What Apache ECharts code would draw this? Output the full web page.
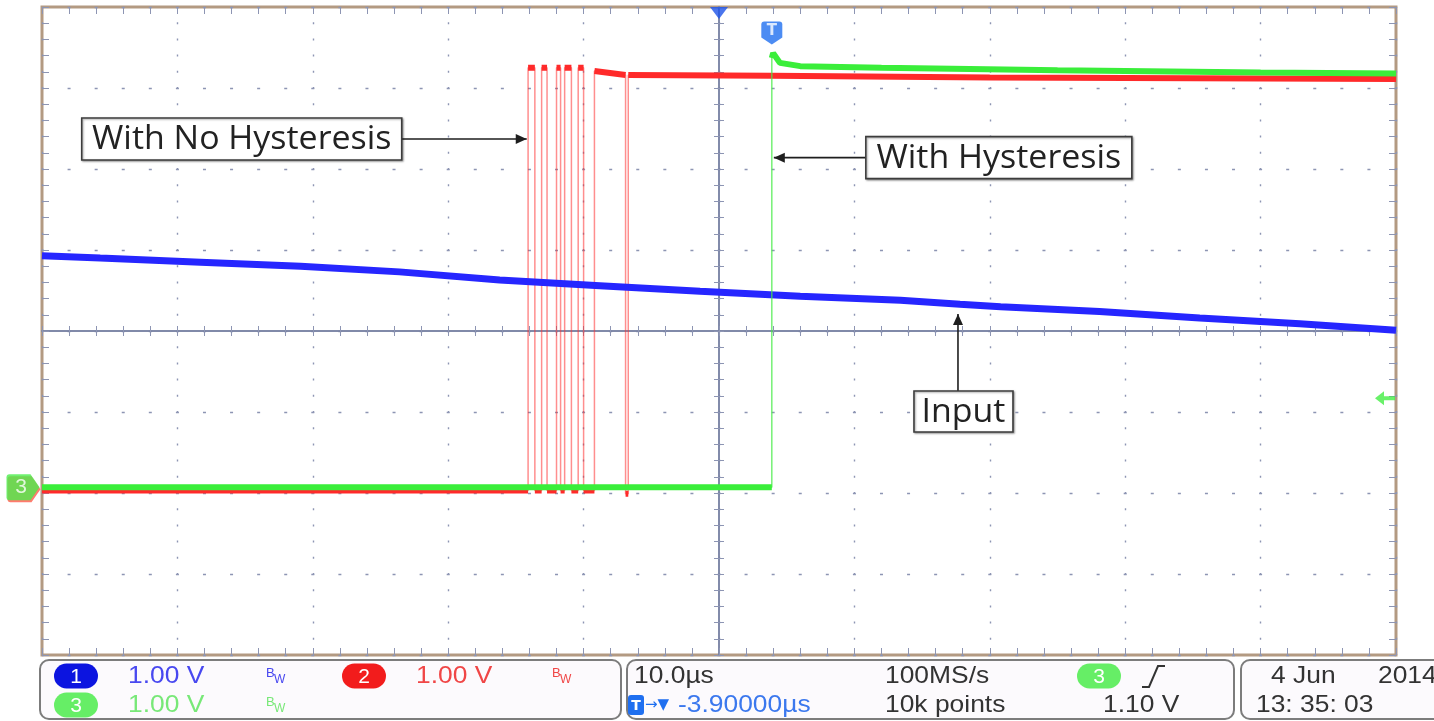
<!DOCTYPE html>
<html>
<head>
<meta charset="utf-8">
<title>Comparator output with and without hysteresis</title>
<script src="https://cdn.jsdelivr.net/npm/echarts@6/dist/echarts.min.js"></script>
<style>
html, body { margin: 0; padding: 0; background: #fff; }
#main { width: 1434px; height: 721px; }
</style>
</head>
<body>
<div id="main"></div>
<script>
// scope settings
var VOLTS_PER_DIV = 1.0;
var GROUND_DIV = -1.93;          // ground marker of the channels, divisions from centre
var TIME_MIN = -50, TIME_MAX = 50; // µs, 10 µs/div
var TIME_DIV = 10;
var TRIG_TIME = 3.9;             // µs, trigger point
var TRIG_LEVEL = 1.10;           // V on ch3

// ch1: input ramp  [µs, V]
var ch1Input = [[-50, 2.86], [-45.7, 2.83], [-38.3, 2.78], [-30.9, 2.73], [-23.6, 2.66],
  [-16.2, 2.56], [-8.8, 2.49], [-1.4, 2.42], [6.0, 2.36], [13.4, 2.31], [17.8, 2.26],
  [20.8, 2.23], [28.1, 2.17], [35.5, 2.09], [42.9, 2.02], [50, 1.94]];

// ch2: comparator without hysteresis  [µs, V]
var ch2NoHyst = [[-50, -0.04], [-14.1, -0.04], [-14.1, 5.18], [-13.6, 5.18], [-13.6, -0.04],
  [-13.1, -0.04], [-13.1, 5.18], [-12.7, 5.18], [-12.7, -0.04],
  [-12.0, -0.04], [-12.0, 5.18], [-11.7, 5.18], [-11.7, -0.04],
  [-11.4, -0.04], [-11.4, 5.18], [-10.9, 5.18], [-10.9, -0.04],
  [-10.4, -0.04], [-10.4, 5.18], [-10.0, 5.18], [-10.0, -0.04],
  [-9.2, -0.04], [-9.2, 5.14], [-6.9, 5.09], [-6.9, -0.08], [-6.7, -0.08], [-6.7, 5.09],
  [3.9, 5.08], [20, 5.06], [50, 5.04]];

// ch3: comparator with hysteresis  [µs, V]
var ch3Hyst = [[-50, 0.0], [3.9, 0.0], [3.9, 5.30], [4.0, 5.36], [4.5, 5.24], [6, 5.20],
  [12, 5.18], [25, 5.15], [40, 5.12], [50, 5.11]];

// status bar texts
var chNames = ['1', '2', '3'];
var chScales = ['1.00 V', '1.00 V', '1.00 V'];
var timebase = '10.0\u00b5s';
var sampleRate = '100MS/s';
var recordLen = '10k points';
var trigDelay = '-3.90000\u00b5s';
var trigLevelText = '1.10 V';
var dateParts = ['4 Jun', '2014'];
var clockText = '13: 35: 03';
var noteTexts = ['With No Hysteresis', 'With Hysteresis', 'Input'];

var chColors = ['#2626ff', '#ff2a2a', '#3aee3a'];
var chText = ['#4848f0', '#f04646', '#78e878'];
var chBadge = ['#0c14e0', '#f21c1c', '#66ee66'];
var dotColor = '#8d95b3';
var axisColor = '#7a83a4';

var GRID = { left: 42, top: 7, width: 1354, height: 648 };
var pxPerMinorX = GRID.width / 50;   // 5 minor steps per division
var pxPerMinorY = GRID.height / 40;

function toDiv(pts) {
  return pts.map(function (p) { return [p[0], p[1] / VOLTS_PER_DIV + GROUND_DIV]; });
}
// keep only the flat parts (thick noise band), break the line at the edges
function levelsOnly(pts) {
  var out = [pts[0]];
  for (var i = 1; i < pts.length; i++) {
    if (Math.abs(pts[i][1] - pts[i - 1][1]) > 1) out.push([pts[i][0], '-']);
    out.push(pts[i]);
  }
  return out;
}

function xAx(o) {
  return Object.assign({
    type: 'value', min: TIME_MIN, max: TIME_MAX, interval: TIME_DIV,
    axisLabel: { show: false }, splitLine: { show: false },
    axisLine: { show: false, onZero: false }, axisTick: { show: false }
  }, o);
}
function yAx(o) {
  return Object.assign({
    type: 'value', min: -4, max: 4, interval: 1,
    axisLabel: { show: false }, splitLine: { show: false },
    axisLine: { show: false, onZero: false }, axisTick: { show: false }
  }, o);
}
var tickStyle = { color: dotColor, width: 1 };
var centreLine = { color: axisColor, width: 1.5 };

var ch1 = toDiv(ch1Input), ch2 = toDiv(ch2NoHyst), ch3 = toDiv(ch3Hyst);

function lineSeries(data, color, width, z) {
  return {
    type: 'line', data: data, symbol: 'none', silent: true, z: z,
    lineStyle: { color: color, width: width }, animation: false
  };
}

var option = {
  backgroundColor: '#ffffff',
  animation: false,
  grid: {
    left: GRID.left, top: GRID.top, width: GRID.width, height: GRID.height,
    show: true, borderColor: '#b39a82', borderWidth: 3, backgroundColor: '#ffffff',
    outerBoundsMode: 'none'
  },
  xAxis: [
    xAx({ position: 'bottom', splitLine: { show: true, lineStyle: { color: dotColor, width: 1.4, type: [2, pxPerMinorY - 2], dashOffset: 1 } } }),
    xAx({ position: 'bottom', interval: 2, axisTick: { show: true, inside: true, length: 7, lineStyle: tickStyle } }),
    xAx({ position: 'top', interval: 2, axisTick: { show: true, inside: true, length: 7, lineStyle: tickStyle } }),
    xAx({ position: 'bottom', interval: 2, axisLine: { show: true, onZero: true, onZeroAxisIndex: 0, lineStyle: centreLine },
      axisTick: { show: true, inside: true, length: 5, lineStyle: tickStyle } }),
    xAx({ position: 'bottom', interval: 2, axisLine: { show: true, onZero: true, onZeroAxisIndex: 0, lineStyle: centreLine },
      axisTick: { show: true, inside: false, length: 5, lineStyle: tickStyle } })
  ],
  yAxis: [
    yAx({ position: 'left', splitLine: { show: true, lineStyle: { color: dotColor, width: 1.4, type: [3, pxPerMinorX - 3], dashOffset: 1.5 } } }),
    yAx({ position: 'left', interval: 0.2, axisTick: { show: true, inside: true, length: 7, lineStyle: tickStyle } }),
    yAx({ position: 'right', interval: 0.2, axisTick: { show: true, inside: true, length: 7, lineStyle: tickStyle } }),
    yAx({ position: 'left', interval: 0.2, axisLine: { show: true, onZero: true, onZeroAxisIndex: 0, lineStyle: centreLine },
      axisTick: { show: true, inside: true, length: 5, lineStyle: tickStyle } }),
    yAx({ position: 'left', interval: 0.2, axisLine: { show: true, onZero: true, onZeroAxisIndex: 0, lineStyle: centreLine },
      axisTick: { show: true, inside: false, length: 5, lineStyle: tickStyle } })
  ],
  series: [
    lineSeries(ch2, 'rgba(255,50,50,0.55)', 1.5, 2),
    lineSeries(levelsOnly(ch2), chColors[1], 6, 3),
    lineSeries(ch1, chColors[0], 7, 4),
    lineSeries(ch3, 'rgba(70,235,70,0.75)', 1.5, 5),
    lineSeries(levelsOnly(ch3), chColors[2], 6, 6),
    // horizontal position marker
    { type: 'scatter', data: [[0, 4]], symbol: 'triangle', symbolRotate: 180, symbolSize: [18, 12],
      symbolOffset: [0, 6], itemStyle: { color: '#1d52e8' }, clip: false, silent: true, z: 10 },
    // trigger point marker
    { type: 'scatter', data: [[TRIG_TIME, 4]], symbol: 'path://M3,0 H18 Q21,0 21,3 V16 L10.5,23 L0,16 V3 Q0,0 3,0 Z',
      symbolSize: [21, 23], symbolOffset: [0, 26], itemStyle: { color: '#1f6ff0' }, clip: false, silent: true, z: 10,
      label: { show: true, position: 'inside', formatter: 'T', color: '#fff', fontSize: 15, fontWeight: 'bold', fontFamily: 'DejaVu Sans', offset: [0, -2] } },
    // ground markers (ch2 behind ch3)
    { type: 'scatter', data: [[TIME_MIN, GROUND_DIV]], symbol: 'path://M3,0 H24 L33,13 L24,26 H3 Q0,26 0,23 V3 Q0,0 3,0 Z',
      symbolSize: [33, 26], symbolOffset: [-18, 2], itemStyle: { color: '#ff5a4a' }, clip: false, silent: true, z: 10 },
    { type: 'scatter', data: [[TIME_MIN, GROUND_DIV]], symbol: 'path://M3,0 H24 L33,13 L24,26 H3 Q0,26 0,23 V3 Q0,0 3,0 Z',
      symbolSize: [33, 26], symbolOffset: [-19, 0], itemStyle: { color: '#4cee4c' }, clip: false, silent: true, z: 11,
      label: { show: true, position: 'inside', formatter: chNames[2], color: '#fff', fontSize: 21, fontFamily: 'Liberation Sans', offset: [-2, 0] } },
    // trigger level marker
    { type: 'scatter', data: [[TIME_MAX, TRIG_LEVEL / VOLTS_PER_DIV + GROUND_DIV]],
      symbol: 'path://M0,7 L9,0 L9,5 L20,5 L20,9 L9,9 L9,14 Z', symbolSize: [20, 14], symbolOffset: [-11, 0],
      itemStyle: { color: '#44ee44' }, clip: false, silent: true, z: 10 }
  ]
};

// ---------- status bar ----------
var SB_FONT = 'Liberation Sans';
function txt(x, y, s, color, size, sx, font) {
  return { type: 'text', x: x, y: y, scaleX: sx || 1.1, silent: true, z: 20,
    style: { text: s, fill: color, font: (size || 24) + 'px "' + (font || SB_FONT) + '"', verticalAlign: 'middle' } };
}
function badge(cx, cy, s, fill) {
  return [
    { type: 'rect', shape: { x: cx - 22, y: cy - 12.5, width: 44, height: 25, r: 12.5 }, style: { fill: fill }, silent: true, z: 20 },
    { type: 'text', x: cx, y: cy + 1, silent: true, z: 21, style: { text: s, fill: '#fff', font: '21px "Liberation Sans"', align: 'center', verticalAlign: 'middle' } }
  ];
}
function bw(x, y, color) {
  return [txt(x, y - 3, 'B', color, 13, 1), txt(x + 8, y + 4, 'W', color, 12, 1)];
}
function panel(x, w) {
  return { type: 'rect', shape: { x: x, y: 660, width: w, height: 59, r: 9 }, silent: true, z: 19,
    style: { fill: '#fcfafd', stroke: '#7c7c7c', lineWidth: 2 } };
}
var R1 = 676, R2 = 705;
var statusElems = [
  panel(40, 581), panel(627, 607), panel(1241, 220)
].concat(
  badge(76, R1, chNames[0], chBadge[0]), [txt(128, R1, chScales[0], chText[0])], bw(266, R1, chText[0]),
  badge(364, R1, chNames[1], chBadge[1]), [txt(416, R1, chScales[1], chText[1])], bw(552, R1, chText[1]),
  badge(76, R2, chNames[2], chBadge[2]), [txt(128, R2, chScales[2], chText[2])], bw(266, R2, chText[2]),
  [txt(634, R1, timebase, '#333'), txt(885, R1, sampleRate, '#333')],
  badge(1099, R1, chNames[2], chBadge[2]),
  [{ type: 'polyline', shape: { points: [[1142, 687], [1149, 687], [1158, 666], [1165, 666]] }, silent: true, z: 20,
     style: { stroke: '#333', lineWidth: 2, fill: null } }],
  [{ type: 'rect', shape: { x: 628, y: 695, width: 16, height: 20, r: 3 }, style: { fill: '#1f6ff0' }, silent: true, z: 20 },
   { type: 'text', x: 636, y: 706, silent: true, z: 21, style: { text: 'T', fill: '#fff', font: 'bold 14px "DejaVu Sans"', align: 'center', verticalAlign: 'middle' } },
   txt(645, R2, '\u2192\u25bc', '#1f6ff0', 15, 1, 'DejaVu Sans'),
   txt(678, R2, trigDelay, '#3b78ee'),
   txt(885, R2, recordLen, '#333'), txt(1103, R2, trigLevelText, '#333'),
   txt(1271, R1, dateParts[0], '#333'), txt(1378, R1, dateParts[1], '#333'),
   txt(1256, R2, clockText, '#333')]
);
option.graphic = statusElems;

var chart = echarts.init(document.getElementById('main'));
chart.setOption(option);

// ---------- annotations: boxes with arrows, anchored on the traces ----------
var noteLayout = [
  { tip: [-14.2, 4.30], side: 'left', len: 125, w: 320, h: 42 },
  { tip: [4.05, 4.07], side: 'right', len: 92, w: 266, h: 42 },
  { tip: [17.65, 2.14], side: 'down', len: 77, w: 99, h: 41, dx: -44 }
];
function arrowHead(tx, ty, ang) {
  var L = 11, W = 5;
  var c = Math.cos(ang), s = Math.sin(ang);
  return { type: 'polygon', silent: true, z: 31, style: { fill: '#1e1e1e' },
    shape: { points: [[tx, ty], [tx - L * c - W * s, ty - L * s + W * c], [tx - L * c + W * s, ty - L * s - W * c]] } };
}
var noteElems = [];
noteLayout.forEach(function (n, i) {
  var p = chart.convertToPixel({ xAxisIndex: 0, yAxisIndex: 0 }, [n.tip[0], n.tip[1] / VOLTS_PER_DIV + GROUND_DIV]);
  var tx = p[0], ty = p[1], bx, by, sx, sy, ang;
  if (n.side === 'left') { bx = tx - n.len - n.w; by = ty - n.h / 2; sx = tx - n.len; sy = ty; ang = 0; }
  else if (n.side === 'right') { bx = tx + n.len; by = ty - n.h / 2; sx = bx; sy = ty; ang = Math.PI; }
  else { bx = tx + n.dx; by = ty + n.len; sx = tx; sy = by; ang = -Math.PI / 2; }
  noteElems.push({ type: 'line', silent: true, z: 30, shape: { x1: sx, y1: sy, x2: tx, y2: ty }, style: { stroke: '#1e1e1e', lineWidth: 1.6 } });
  noteElems.push(arrowHead(tx, ty, ang));
  noteElems.push({ type: 'rect', silent: true, z: 30, shape: { x: bx, y: by, width: n.w, height: n.h },
    style: { fill: '#fff', stroke: '#3c3c3c', lineWidth: 1.6, shadowBlur: 2, shadowColor: 'rgba(0,0,0,0.35)', shadowOffsetX: 1, shadowOffsetY: 1 } });
  noteElems.push({ type: 'text', silent: true, z: 31, x: bx + n.w / 2, y: by + n.h / 2 + 1, scaleX: 1.06,
    style: { text: noteTexts[i], fill: '#222', font: '32px "Open Sans"', align: 'center', verticalAlign: 'middle' } });
});
chart.setOption({ graphic: statusElems.concat(noteElems) });
</script>
</body>
</html>
